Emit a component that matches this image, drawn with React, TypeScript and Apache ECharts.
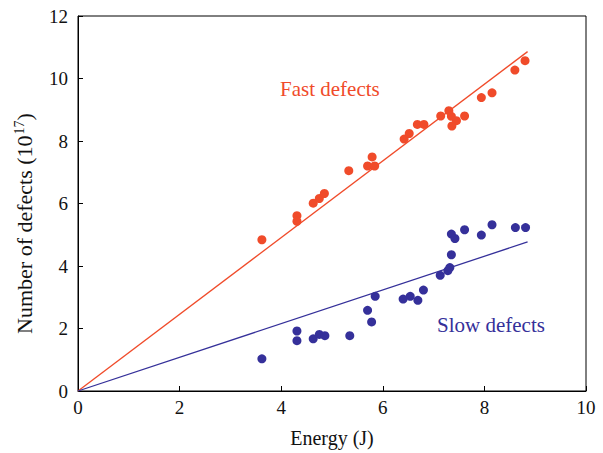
import React, { useEffect, useRef } from "react";
import * as echarts from "echarts";

const fastX = [3.62, 4.31, 4.31, 4.63, 4.75, 4.85, 5.33, 5.70, 5.79, 5.84, 6.42, 6.52, 6.68, 6.81, 7.14, 7.30, 7.35, 7.45, 7.36, 7.61, 7.94, 8.15, 8.60, 8.80];
const fastY = [4.84, 5.61, 5.43, 6.01, 6.16, 6.32, 7.05, 7.20, 7.49, 7.20, 8.06, 8.24, 8.53, 8.53, 8.80, 8.97, 8.79, 8.65, 8.48, 8.80, 9.39, 9.54, 10.27, 10.57];

const slowX = [3.62, 4.31, 4.31, 4.63, 4.75, 4.86, 5.35, 5.70, 5.78, 5.85, 6.40, 6.54, 6.69, 6.80, 7.13, 7.28, 7.32, 7.35, 7.35, 7.42, 7.61, 7.94, 8.15, 8.61, 8.81];
const slowY = [1.03, 1.92, 1.61, 1.67, 1.81, 1.77, 1.77, 2.58, 2.21, 3.03, 2.94, 3.03, 2.90, 3.23, 3.70, 3.85, 3.95, 4.36, 5.02, 4.88, 5.16, 4.99, 5.32, 5.23, 5.23];

const fastFitX = [0, 8.85];
const fastFitY = [0, 10.86];
const slowFitX = [0, 8.85];
const slowFitY = [0, 4.77];

const xTicks = [0, 2, 4, 6, 8, 10];
const yTicks = [0, 2, 4, 6, 8, 10, 12];

const FAST = "#f04b2a";
const SLOW = "#35309a";
const FONT = "Liberation Serif";

const zip = (a: number[], b: number[]) => a.map((v, i) => [v, b[i]]);

export default function App() {
  const ref = useRef<HTMLDivElement>(null);
  useEffect(() => {
    if (!ref.current) return;
    const chart = echarts.init(ref.current, null, { renderer: "svg" });
    chart.setOption({
      animation: false,
      backgroundColor: "#fff",
      grid: {
        left: 78,
        right: 17,
        top: 16,
        bottom: 60,
        show: true,
        borderColor: "#000",
        borderWidth: 1,
      },
      xAxis: {
        type: "value",
        min: xTicks[0],
        max: xTicks[xTicks.length - 1],
        interval: 2,
        name: "Energy (J)",
        nameLocation: "middle",
        nameGap: 37,
        nameTextStyle: { fontFamily: FONT, fontSize: 20, color: "#111" },
        axisLine: { show: true, lineStyle: { color: "#000", width: 1 } },
        axisTick: { show: true, inside: true, length: 5, lineStyle: { color: "#000" } },
        axisLabel: { fontFamily: FONT, fontSize: 19, color: "#111", margin: 7 },
        splitLine: { show: false },
      },
      yAxis: {
        type: "value",
        min: yTicks[0],
        max: yTicks[yTicks.length - 1],
        interval: 2,
        name: "Number of defects (10{sup|17})",
        nameLocation: "middle",
        nameRotate: 90,
        nameGap: 42,
        nameTextStyle: {
          fontFamily: FONT,
          fontSize: 22,
          color: "#111",
          padding: [0, 40, 0, 0],
          rich: {
            sup: { fontFamily: FONT, fontSize: 14, color: "#111", verticalAlign: "top", padding: [0, 0, 10, 1] },
          },
        },
        axisLine: { show: true, lineStyle: { color: "#000", width: 1 } },
        axisTick: { show: true, inside: true, length: 5, lineStyle: { color: "#000" } },
        axisLabel: { fontFamily: FONT, fontSize: 19, color: "#111", margin: 10 },
        splitLine: { show: false },
      },
      series: [
        {
          type: "line",
          data: zip(fastFitX, fastFitY),
          showSymbol: false,
          lineStyle: { color: FAST, width: 1.3 },
          z: 2,
        },
        {
          type: "line",
          data: zip(slowFitX, slowFitY),
          showSymbol: false,
          lineStyle: { color: SLOW, width: 1.3 },
          z: 2,
        },
        {
          type: "scatter",
          data: zip(fastX, fastY),
          symbol: "circle",
          symbolSize: 9,
          itemStyle: { color: FAST, opacity: 1 },
          z: 3,
        },
        {
          type: "scatter",
          data: zip(slowX, slowY),
          symbol: "circle",
          symbolSize: 9,
          itemStyle: { color: SLOW, opacity: 1 },
          z: 3,
        },
      ],
      graphic: [
        {
          type: "text",
          x: 280,
          y: 78,
          style: { text: "Fast defects", fill: FAST, font: `21px "${FONT}"` },
        },
        {
          type: "text",
          x: 437,
          y: 314,
          style: { text: "Slow defects", fill: SLOW, font: `21px "${FONT}"` },
        },
      ],
    });
    return () => chart.dispose();
  }, []);
  return (
    <div
      ref={ref}
      style={{ position: "fixed", left: 0, top: 0, width: 603, height: 453 }}
    />
  );
}
